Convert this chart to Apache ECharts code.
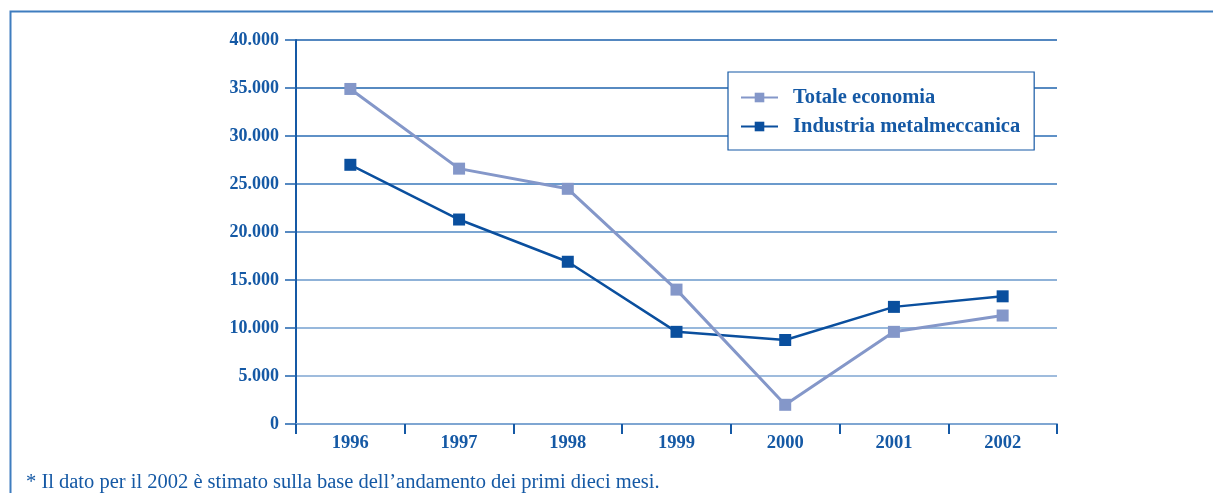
<!DOCTYPE html>
<html>
<head>
<meta charset="utf-8">
<script src="https://cdn.jsdelivr.net/npm/echarts@6/dist/echarts.min.js"></script>
<style>
  html, body { margin: 0; padding: 0; background: #ffffff; }
  #chart { width: 1214px; height: 493px; }
</style>
</head>
<body>
<div id="chart"></div>
<script>
// Years on the horizontal axis
const years = ['1996', '1997', '1998', '1999', '2000', '2001', '2002'];
// Whole economy
const totaleEconomia = [34900, 26600, 24500, 14000, 2000, 9600, 11300];
// Metalworking industry
const industriaMetalmeccanica = [27000, 21300, 16900, 9600, 8750, 12200, 13300];
// Footnote text
const footnote = '* Il dato per il 2002 è stimato sulla base dell’andamento dei primi dieci mesi.';

const blue = '#1559a5';
const serif = '"Liberation Serif", "Times New Roman", serif';

// Thousands separator with a dot
function fmt(v) {
  return String(v).replace(/\B(?=(\d{3})+(?!\d))/g, '.');
}

const chart = echarts.init(document.getElementById('chart'), null, { renderer: 'canvas' });

chart.setOption({
  animation: false,
  backgroundColor: '#ffffff',
  graphic: [
    {
      type: 'polyline',
      shape: { points: [[10.5, 493], [10.5, 11.5], [1213, 11.5]] },
      style: { stroke: '#3f7dbf', lineWidth: 2, fill: null }
    },
    {
      type: 'text',
      left: 26,
      top: 472,
      style: { text: footnote, fill: blue, font: '20.5px ' + serif }
    }
  ],
  grid: { left: 296, right: 157, top: 40, bottom: 69, containLabel: false },
  legend: {
    orient: 'vertical',
    left: 728,
    top: 72,
    padding: [15, 14, 13, 12],
    itemGap: 8,
    itemWidth: 37,
    itemHeight: 12,
    backgroundColor: '#ffffff',
    borderColor: '#1559a5',
    borderWidth: 1.2,
    textStyle: {
      color: blue,
      fontFamily: serif,
      fontWeight: 'bold',
      fontSize: 20.5,
      lineHeight: 20,
      padding: [0, 0, 0, 10]
    },
    data: ['Totale economia', 'Industria metalmeccanica']
  },
  xAxis: {
    type: 'category',
    data: years,
    boundaryGap: true,
    axisLine: { lineStyle: { color: '#7fa6d2', width: 2 } },
    axisTick: { show: true, length: 10, inside: false, lineStyle: { color: '#1559a5', width: 2 } },
    axisLabel: { color: blue, fontFamily: serif, fontWeight: 'bold', fontSize: 18.5, margin: 10 }
  },
  yAxis: {
    type: 'value',
    min: 0,
    max: 40000,
    interval: 5000,
    axisLine: { show: true, lineStyle: { color: '#1559a5', width: 2 } },
    axisTick: { show: true, length: 11, lineStyle: { color: '#1f63ad', width: 1.5 } },
    axisLabel: {
      color: blue, fontFamily: serif, fontWeight: 'bold', fontSize: 18, margin: 17,
      formatter: fmt
    },
    splitLine: {
      show: true,
      lineStyle: {
        width: 1.5,
        color: ['#7fa6d2', '#7fa6d2', '#74a0d0', '#6a98cb', '#5088c3', '#3a78bb', '#2a6cb4', '#1f63ad', '#1a5fab']
      }
    }
  },
  series: [
    {
      name: 'Totale economia',
      type: 'line',
      data: totaleEconomia,
      symbol: 'rect',
      symbolSize: 12,
      lineStyle: { color: '#8497c9', width: 3 },
      itemStyle: { color: '#8497c9' },
      z: 3
    },
    {
      name: 'Industria metalmeccanica',
      type: 'line',
      data: industriaMetalmeccanica,
      symbol: 'rect',
      symbolSize: 12,
      lineStyle: { color: '#0a4f9e', width: 2.5 },
      itemStyle: { color: '#0a4f9e' },
      z: 2
    }
  ]
});
</script>
</body>
</html>
